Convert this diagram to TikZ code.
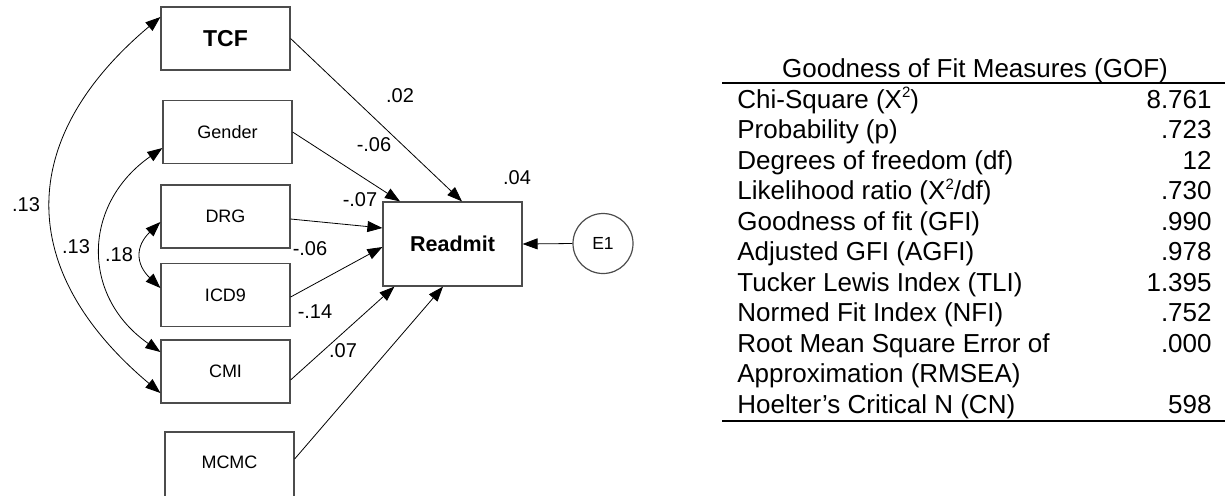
\documentclass[tikz,border=0pt]{standalone}
\usepackage{fontspec}
\setmainfont{Liberation Sans}
\usetikzlibrary{arrows.meta}
\newcommand{\sqsup}{\raisebox{0.75ex}{\fontsize{7.5}{8}\selectfont 2}}

\begin{document}
\begin{tikzpicture}[x=0.5pt, y=-0.5pt]

                \tikzstyle{obs}  = [rectangle, draw=black!70, line width=0.6pt, minimum width=64.5pt, minimum height=31.5pt, inner sep=0pt, font=\fontsize{9}{10}\selectfont]
                \tikzstyle{err}  = [circle, draw=black!70, line width=0.6pt, minimum size=30pt, inner sep=0pt, font=\fontsize{8.75}{10}\selectfont]
                \tikzstyle{coef} = [inner sep=0pt, font=\fontsize{10}{12}\selectfont]
                \tikzstyle{reg}  = [-{Triangle[length=7.5pt, width=5.5pt]}, line width=0.4pt]
                \tikzstyle{cov}  = [{Triangle[length=7.5pt, width=5.5pt]}-{Triangle[length=7.5pt, width=5.5pt]}, line width=0.4pt]
                \tikzstyle{gof}  = [inner sep=0pt, font=\fontsize{13}{15}\selectfont]

                \useasboundingbox (0, 0) rectangle (1227, 495);

                % model
                \node [obs, font=\fontsize{11.5}{13}\selectfont\bfseries](tcf) at (225.5, 38.5) {TCF};
                \node [obs](gender) at (227.5, 132) {Gender};
                \node [obs](drg) at (225.5, 216.5) {DRG};
                \node [obs](icd) at (225.5, 295) {ICD9};
                \node [obs](cmi) at (225.5, 371.5) {CMI};
                \node [obs, minimum height=34pt, text depth=4pt](mcmc) at (229.5, 466) {MCMC};
                \node [obs, minimum width=69.5pt, minimum height=42pt, font=\fontsize{10.75}{12}\selectfont\bfseries](readmit) at (452.5, 244) {Readmit};
                \node [err](e1) at (603, 243.5) {E1};

                \draw [reg] (tcf.east) -- ([xshift=4.75pt]readmit.north);
                \draw [reg] (gender.east) -- ([xshift=-26.25pt]readmit.north);
                \draw [reg] ([yshift=-1.25pt]drg.east) -- ([yshift=8pt]readmit.west);
                \draw [reg] ([yshift=-1pt]icd.east) -- ([yshift=-1.5pt]readmit.west);
                \draw [reg] ([yshift=-4.25pt]cmi.east) -- ([xshift=6pt]readmit.south west);
                \draw [reg] ([yshift=3.5pt]mcmc.east) -- ([xshift=-4.75pt]readmit.south);
                \draw [reg] (e1.west) -- (readmit.east);

                \draw [cov] ([yshift=10.75pt]tcf.west) .. controls +(-145, 122) and +(-145, -122) .. ([yshift=-10.75pt]cmi.west);
                \draw [cov] ([yshift=-8pt]gender.west) .. controls +(-80, 56) and +(-80, -56) .. ([yshift=9.75pt]cmi.west);
                \draw [cov] ([yshift=-2.75pt]drg.west) .. controls +(-25, 24) and +(-25, -24) .. ([yshift=3.5pt]icd.west);

                \node [coef](c1) at (26, 205) {.13};
                \node [coef](c2) at (76, 247) {.13};
                \node [coef](c3) at (119, 255) {.18};
                \node [coef](b1) at (400, 96) {.02};
                \node [coef](b2) at (374, 145) {-.06};
                \node [coef](b3) at (360, 200) {-.07};
                \node [coef](b4) at (310, 249) {-.06};
                \node [coef](b5) at (315, 312) {-.14};
                \node [coef](b6) at (343, 351) {.07};
                \node [coef](r2) at (517, 178) {.04};

                % fit table
                \node [gof, anchor=base](gof) at (975, 77) {Goodness of Fit Measures (GOF)};
                \draw [line width=1pt] (722, 83) -- (1225, 83);
                \foreach \name/\val [count=\i from 0] in {{Chi-Square (X\sqsup)}/8.761, {Probability (p)}/.723, {Degrees of freedom (df)}/12, {Likelihood ratio (X\sqsup/df)}/.730, {Goodness of fit (GFI)}/.990, {Adjusted GFI (AGFI)}/.978, {Tucker Lewis Index (TLI)}/1.395, {Normed Fit Index (NFI)}/.752, {Root Mean Square Error of}/.000, {Approximation (RMSEA)}/{}, {Hoelter’s Critical N (CN)}/598}
                {
                        \node [gof, anchor=base west](row\i) at (737, {108 + 30.5*\i}) {\name};
                        \node [gof, anchor=base east](val\i) at (1212, {108 + 30.5*\i}) {\val};
                }
                \draw [line width=1pt] (722, 421) -- (1225, 421);
\end{tikzpicture}
\end{document}
